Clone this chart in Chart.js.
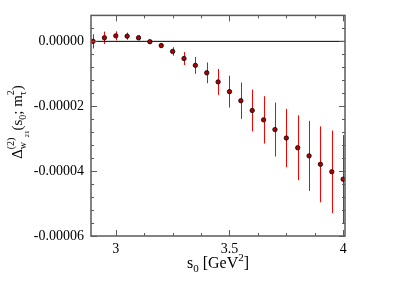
<!DOCTYPE html>
<html>
<head>
    <title>Delta w21 vs s0</title>
    <script src="https://cdn.jsdelivr.net/npm/chart.js@4.4.0/dist/chart.umd.min.js"></script>
    <style>
        body { margin: 0; background: #fff; }
        canvas { display: block; }
    </style>
</head>
<body>
    <canvas id="deltaChart" width="403" height="285"></canvas>
    <script>
        // values
        const s0 = [2.90, 2.95, 3.00, 3.05, 3.10, 3.15, 3.20, 3.25, 3.30, 3.35, 3.40, 3.45,
                    3.50, 3.55, 3.60, 3.65, 3.70, 3.75, 3.80, 3.85, 3.90, 3.95, 4.00];
        const delta = [0.0e-6, 1.1e-6, 1.7e-6, 1.6e-6, 1.1e-6, -0.1e-6, -1.3e-6, -3.1e-6, -5.3e-6,
                       -7.4e-6, -9.7e-6, -12.5e-6, -15.5e-6, -18.3e-6, -21.3e-6, -24.2e-6, -27.2e-6,
                       -29.8e-6, -32.8e-6, -35.3e-6, -37.9e-6, -40.2e-6, -42.5e-6];
        const errs = [2.2e-6, 1.9e-6, 1.4e-6, 1.1e-6, 0.8e-6, 0.3e-6, 0.7e-6, 1.3e-6, 2.0e-6,
                      2.6e-6, 3.2e-6, 4.0e-6, 4.9e-6, 5.6e-6, 6.45e-6, 7.3e-6, 8.3e-6,
                      9.0e-6, 10.0e-6, 10.8e-6, 11.7e-6, 12.7e-6, 13.6e-6];

        const xRange = [2.891, 4.008];
        const yRange = [-0.00006, 0.000008];
        const xMajor = [3, 3.5, 4];
        const xMinor = [3.125, 3.25, 3.375, 3.625, 3.75, 3.875];
        const yMajor = [0, -0.00002, -0.00004, -0.00006];
        const yMinor = [0.000004, -0.000004, -0.000008, -0.000012, -0.000016,
                        -0.000024, -0.000028, -0.000032, -0.000036,
                        -0.000044, -0.000048, -0.000052, -0.000056];

        const serif = '"Liberation Serif", "DejaVu Serif", serif';

        // draws a row of text pieces (normal / sub / sup) centred on cx
        function drawRich(ctx, parts, cx, baseY) {
            let total = 0;
            parts.forEach(p => {
                ctx.font = p.size + 'px ' + serif;
                p.w = ctx.measureText(p.t).width;
                if (!p.stack) total += p.w;
            });
            // stacked pieces share the x of the previous one
            let x = cx - total / 2;
            let lastX = x;
            parts.forEach(p => {
                ctx.font = p.size + 'px ' + serif;
                const px = p.stack ? lastX : x;
                ctx.fillText(p.t, px, baseY + (p.dy || 0));
                if (!p.stack) { lastX = x; x += p.w; }
            });
        }

        const framePlugin = {
            id: 'frame',
            beforeDatasetsDraw(chart) {
                const ctx = chart.ctx;
                const xs = chart.scales.x, ys = chart.scales.y;
                ctx.save();
                ctx.strokeStyle = '#ff0000';
                ctx.lineWidth = 1;
                s0.forEach((s, i) => {
                    const px = Math.round(xs.getPixelForValue(s)) + 0.5;
                    ctx.beginPath();
                    ctx.moveTo(px, ys.getPixelForValue(delta[i] + errs[i]));
                    ctx.lineTo(px, ys.getPixelForValue(delta[i] - errs[i]));
                    ctx.stroke();
                });
                ctx.restore();
            },
            afterDraw(chart) {
                const ctx = chart.ctx;
                const a = chart.chartArea;
                const xs = chart.scales.x, ys = chart.scales.y;
                ctx.save();
                ctx.strokeStyle = '#5a5a5a';
                ctx.lineWidth = 1.5;
                ctx.strokeRect(a.left, a.top, a.right - a.left, a.bottom - a.top);

                ctx.lineWidth = 1;
                const tickX = (v, len) => {
                    const p = Math.round(xs.getPixelForValue(v)) + 0.5;
                    ctx.beginPath();
                    ctx.moveTo(p, a.bottom); ctx.lineTo(p, a.bottom - len);
                    ctx.moveTo(p, a.top); ctx.lineTo(p, a.top + len);
                    ctx.stroke();
                };
                const tickY = (v, len) => {
                    const p = Math.round(ys.getPixelForValue(v)) + 0.5;
                    ctx.beginPath();
                    ctx.moveTo(a.left, p); ctx.lineTo(a.left + len, p);
                    ctx.moveTo(a.right, p); ctx.lineTo(a.right - len, p);
                    ctx.stroke();
                };
                xMajor.forEach(v => tickX(v, 6));
                xMinor.forEach(v => tickX(v, 3));
                yMajor.forEach(v => tickY(v, 6));
                yMinor.forEach(v => tickY(v, 3));

                // axis titles
                ctx.fillStyle = '#000';
                ctx.textBaseline = 'alphabetic';
                ctx.textAlign = 'left';
                drawRich(ctx, [
                    { t: 's', size: 16 },
                    { t: '0', size: 11, dy: 4 },
                    { t: ' [GeV', size: 16 },
                    { t: '2', size: 11, dy: -7 },
                    { t: ']', size: 16 }
                ], (a.left + a.right) / 2, 268);

                ctx.translate(22, 122);
                ctx.rotate(-Math.PI / 2);
                drawRich(ctx, [
                    { t: '\u0394', size: 15 },
                    { t: '(2)', size: 10, dy: -8 },
                    { t: 'w', size: 10, dy: 4, stack: true },
                    { t: '21', size: 7, dy: 7 },
                    { t: '(s', size: 15 },
                    { t: '0', size: 10, dy: 4 },
                    { t: '; m', size: 15 },
                    { t: '2', size: 10, dy: -8 },
                    { t: '\u03c4', size: 10, dy: 4, stack: true },
                    { t: ')', size: 15 }
                ], 0, 0);
                ctx.restore();
            }
        };

        Chart.defaults.font.family = serif;
        Chart.defaults.font.size = 14;
        Chart.defaults.color = '#000';

        new Chart(document.getElementById('deltaChart'), {
            type: 'scatter',
            data: {
                datasets: [{
                    data: s0.map((s, i) => ({ x: s, y: delta[i] })),
                    pointStyle: 'circle',
                    pointRadius: 2.2,
                    backgroundColor: '#b00000',
                    borderColor: '#000',
                    borderWidth: 0.8,
                    order: 0
                }, {
                    type: 'line',
                    data: [{ x: xRange[0], y: 0 }, { x: xRange[1], y: 0 }],
                    borderColor: '#000',
                    borderWidth: 1,
                    pointRadius: 0,
                    order: 1
                }]
            },
            plugins: [framePlugin],
            options: {
                responsive: false,
                animation: false,
                devicePixelRatio: 1,
                layout: { padding: { top: 14, right: 58, left: 0, bottom: 0 } },
                plugins: { legend: { display: false }, tooltip: { enabled: false } },
                scales: {
                    x: {
                        type: 'linear',
                        min: xRange[0],
                        max: xRange[1],
                        grid: { display: false, drawTicks: false },
                        border: { display: false },
                        afterBuildTicks: scale => { scale.ticks = xMajor.map(v => ({ value: v })); },
                        afterFit: scale => { scale.height = 49; },
                        ticks: { padding: 5, maxRotation: 0, font: { family: serif, size: 14 }, callback: v => String(v) }
                    },
                    y: {
                        type: 'linear',
                        min: yRange[0],
                        max: yRange[1],
                        grid: { display: false, drawTicks: false },
                        border: { display: false },
                        afterBuildTicks: scale => { scale.ticks = yMajor.map(v => ({ value: v })); },
                        afterFit: scale => { scale.width = 91; },
                        ticks: { padding: 7, font: { family: serif, size: 14 }, callback: v => v.toFixed(5) }
                    }
                }
            }
        });
    </script>
</body>
</html>
